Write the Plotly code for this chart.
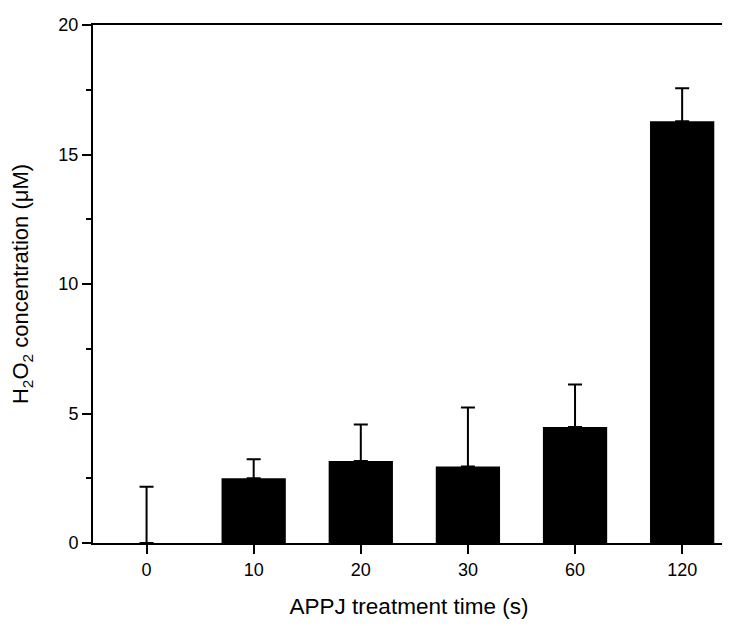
import plotly.graph_objects as go

categories = ["0", "10", "20", "30", "60", "120"]
h2o2 = [0.0, 2.5, 3.17, 2.95, 4.48, 16.28]
err_plus = [2.17, 0.73, 1.41, 2.28, 1.64, 1.28]

fig = go.Figure(go.Bar(
    x=categories, y=h2o2,
    marker=dict(color="black", line=dict(width=0)),
    width=0.6,
    error_y=dict(type="data", array=err_plus, symmetric=False, arrayminus=[0]*6,
                 color="black", thickness=2, width=7),
))

font = "Liberation Sans, Arial, sans-serif"
fig.update_layout(
    width=722, height=618,
    margin=dict(l=85, r=3, t=17, b=83),
    plot_bgcolor="white", paper_bgcolor="white",
    showlegend=False,
    font=dict(family=font, color="black", size=18),
    xaxis=dict(
        type="category", range=[-0.5, 5.4],
        showline=True, linecolor="black", linewidth=2, mirror=True,
        ticks="outside", ticklen=9, tickwidth=2, tickcolor="black",
        showgrid=False, zeroline=False, layer="above traces",
        tickfont=dict(size=18),
        title=dict(text="APPJ treatment time (s)", font=dict(size=22.5), standoff=20),
    ),
    yaxis=dict(
        range=[0, 20], tickvals=[0, 5, 10, 15, 20],
        showline=True, linecolor="black", linewidth=2, mirror=True,
        ticks="outside", ticklen=9, tickwidth=2, tickcolor="black",
        minor=dict(tickvals=[2.5, 7.5, 12.5, 17.5], ticks="outside", ticklen=5, tickwidth=2, tickcolor="black"),
        showgrid=False, zeroline=False, layer="above traces",
        tickfont=dict(size=18),
        title=dict(text="H<sub>2</sub>O<sub>2</sub> concentration (μM)", font=dict(size=22), standoff=25),
    ),
)

fig.write_html("out.html")
